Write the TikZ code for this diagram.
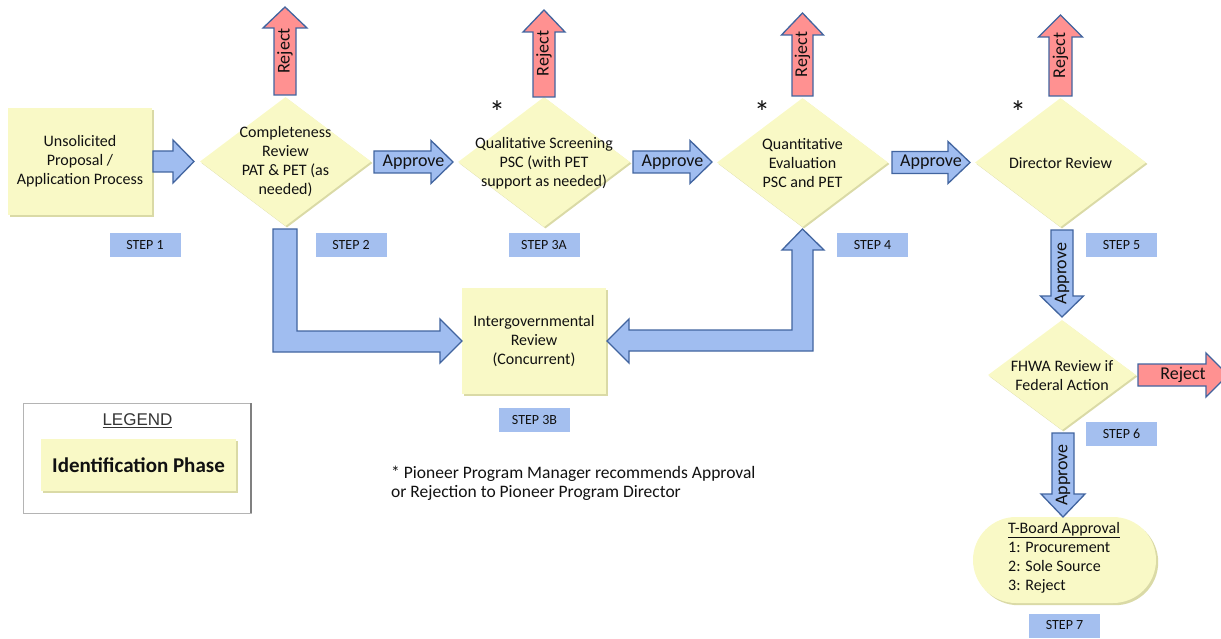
\documentclass[tikz,border=0pt]{standalone}
\usepackage{fontspec}
\setmainfont{Carlito}
\newfontfamily\arialfont{Liberation Sans}
\usetikzlibrary{shapes.geometric,shadows}

\definecolor{padfill}{HTML}{F9F9C6}
\definecolor{padshadow}{HTML}{DADAA6}
\definecolor{stepfill}{HTML}{A4BFEF}
\definecolor{flowfill}{HTML}{A0BDF0}
\definecolor{flowline}{HTML}{41649F}
\definecolor{rejfill}{HTML}{FF9191}
\definecolor{inkc}{HTML}{111111}
\definecolor{legline}{HTML}{B4B4B4}
\definecolor{legdark}{HTML}{808080}

% horizontal block arrow: style, tail x, head base x, tip x, centre y, shaft half, head half
\newcommand\hblock[7]{%
  \path[#1] (#2,#5-#6) -- (#3,#5-#6) -- (#3,#5-#7) -- (#4,#5) -- (#3,#5+#7)
    -- (#3,#5+#6) -- (#2,#5+#6) -- cycle;}
% vertical block arrow: style, centre x, tail y, head base y, tip y, shaft half, head half
\newcommand\vblock[7]{%
  \path[#1] (#2-#6,#3) -- (#2-#6,#4) -- (#2-#7,#4) -- (#2,#5) -- (#2+#7,#4)
    -- (#2+#6,#4) -- (#2+#6,#3) -- cycle;}

\tikzset{
  bodytext/.style={text=inkc, font=\fontsize{16}{19}\selectfont, align=center, inner sep=0},
  padbox/.style={fill=padfill, inner sep=0,
    drop shadow={shadow xshift=2.2pt, shadow yshift=-2.2pt, fill=padshadow, opacity=1}},
  decision/.style={diamond, fill=padfill, inner sep=0,
    drop shadow={shadow xshift=1.5pt, shadow yshift=-1.5pt, fill=padshadow, opacity=1}},
  stepbox/.style={fill=stepfill, minimum width=71, minimum height=24, inner sep=0,
    text=inkc, font=\fontsize{14}{16}\selectfont},
  flow/.style={fill=flowfill, draw=flowline, line width=1.3, line join=miter},
  rej/.style={fill=rejfill, draw=flowline, line width=1.3, line join=miter},
  arrowtext/.style={text=inkc, font=\fontsize{18}{20}\selectfont, inner sep=0},
  starmark/.style={text=inkc, font=\fontsize{32}{34}\selectfont, inner sep=0},
}

\begin{document}
\begin{tikzpicture}[x=1pt, y=-1pt]
\useasboundingbox (0,0) rectangle (1221,639);
\clip (0,0) rectangle (1221,639);

% ---- process boxes and decisions ----
\node[padbox, minimum width=144, minimum height=107] (propose) at (80,161.5) {};
\node[bodytext] (proposeT) at (propose) {Unsolicited\\Proposal /\\Application Process};

\node[decision, minimum width=171, minimum height=129] (complete) at (285.5,161.5) {};
\node[bodytext] (completeT) at (285.5,161.5) {Completeness\\Review\\PAT \& PET (as\\needed)};

\node[decision, minimum width=172, minimum height=130] (quali) at (544,162) {};
\node[bodytext] (qualiT) at (544,163) {Qualitative Screening\\PSC (with PET\\support as needed)};

\node[decision, minimum width=171, minimum height=129] (quanti) at (802.5,162.5) {};
\node[bodytext] (quantiT) at (802.5,163) {Quantitative\\Evaluation\\PSC and PET};

\node[decision, minimum width=171, minimum height=129] (director) at (1060.5,162.5) {};
\node[bodytext] (directorT) at (1060.5,163) {Director Review};

\node[padbox, minimum width=144, minimum height=106] (intergov) at (534,341) {};
\node[bodytext] (intergovT) at (intergov) {Intergovernmental\\Review\\(Concurrent)};

\node[decision, minimum width=148, minimum height=110] (fhwa) at (1062,375) {};
\node[bodytext] (fhwaT) at (1062,375.5) {FHWA Review if\\Federal Action};

\node[padbox, rounded corners=43, minimum width=183, minimum height=86] (tboard) at (1064.5,560) {};
\node[bodytext, align=left, anchor=west] (tboardT) at (1008,557.5)
  {\underline{T-Board Approval}\\1: Procurement\\2: Sole Source\\3: Reject};

% ---- asterisks ----
\node[starmark] (star1) at (497,112) {*};
\node[starmark] (star2) at (762,112) {*};
\node[starmark] (star3) at (1018,112) {*};

% ---- step labels ----
\node[stepbox] (s1) at (145,245) {STEP 1};
\node[stepbox] (s2) at (351,245) {STEP 2};
\node[stepbox] (s3a) at (544,245) {STEP 3A};
\node[stepbox] (s4) at (872.5,245) {STEP 4};
\node[stepbox] (s5) at (1121.5,245.5) {STEP 5};
\node[stepbox] (s3b) at (534.5,420) {STEP 3B};
\node[stepbox] (s6) at (1121.5,433.5) {STEP 6};
\node[stepbox] (s7) at (1064.5,625.5) {STEP 7};

% ---- block arrows along the main line ----
\hblock{flow}{153}{173}{194}{161.5}{10.5}{21.5}
\hblock{flow}{374}{431}{453}{162}{11}{21.5}
\node[arrowtext] (ap1) at (413.5,162) {Approve};
\hblock{flow}{633}{690}{712}{162}{11}{21.5}
\node[arrowtext] (ap2) at (672.5,162) {Approve};
\hblock{flow}{892}{948}{970}{162.5}{11}{21}
\node[arrowtext] (ap3) at (931,162.5) {Approve};

% ---- reject arrows ----
\vblock{rej}{285}{95}{28}{7}{11}{22}
\node[arrowtext, rotate=90] (rj1) at (285,51) {Reject};
\vblock{rej}{544}{97}{32}{10}{11}{21}
\node[arrowtext, rotate=90] (rj2) at (544,53.5) {Reject};
\vblock{rej}{802.5}{96}{35}{13}{10.5}{21}
\node[arrowtext, rotate=90] (rj3) at (802.5,54.5) {Reject};
\vblock{rej}{1060.5}{96}{37}{15}{11.5}{22}
\node[arrowtext, rotate=90] (rj4) at (1060.5,55.5) {Reject};
\hblock{rej}{1138}{1206}{1228}{375}{11}{22}
\node[arrowtext] (rj5) at (1183,375) {Reject};

% ---- approval arrows down the right column ----
\vblock{flow}{1062}{230}{296}{317}{11}{21.5}
\node[arrowtext, rotate=90] (ap4) at (1062,273.5) {Approve};
\vblock{flow}{1063}{433}{494}{517}{11}{22}
\node[arrowtext, rotate=90] (ap5) at (1063,475) {Approve};

% ---- bent arrows to and from the intergovernmental review ----
\path[flow] (273,229) -- (297,229) -- (297,331) -- (440,331) -- (440,319) -- (462,341)
  -- (440,363) -- (440,352) -- (273,352) -- cycle;
\path[flow] (607,341) -- (629,319) -- (629,330) -- (792,330) -- (792,250) -- (782,250)
  -- (802.5,229) -- (824,250) -- (813,250) -- (813,351) -- (629,351) -- (629,363) -- cycle;

% ---- legend ----
\draw[legline, fill=white, line width=1] (23,403) rectangle (251,513);
\draw[legdark, line width=2.2] (251,403) -- (251,513);
\node[text=inkc!85, font=\arialfont\fontsize{17}{20}\selectfont, inner sep=0] (legtitle)
  at (137.5,421) {\underline{LEGEND}};
\node[padbox, minimum width=195, minimum height=52,
  font=\bfseries\fontsize{21}{24}\selectfont, text=inkc] (legphase) at (138.5,465) {Identification Phase};

% ---- footnote ----
\node[anchor=west, align=left, inner sep=0, text=inkc, font=\fontsize{17.5}{19}\selectfont] (note)
  at (391,483.5) {* Pioneer Program Manager recommends Approval\\or Rejection to Pioneer Program Director};
\end{tikzpicture}
\end{document}
